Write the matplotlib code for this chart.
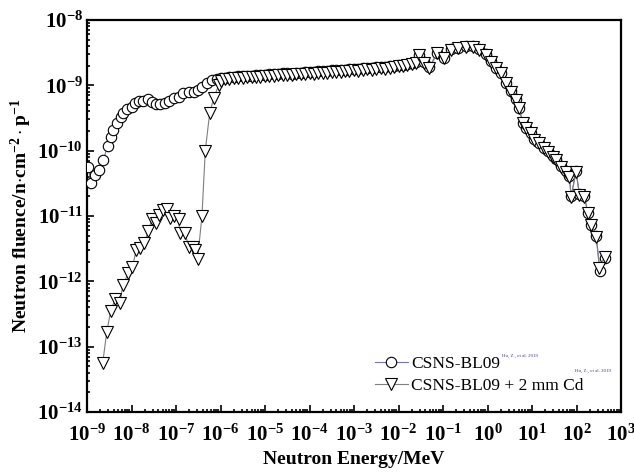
import matplotlib

matplotlib.use("Agg")
import matplotlib.pyplot as plt
from matplotlib.ticker import LogLocator, NullFormatter

plt.rcParams["font.family"] = ["Liberation Serif", "DejaVu Serif"]
plt.rcParams["font.weight"] = "bold"
plt.rcParams["mathtext.fontset"] = "custom"
plt.rcParams["mathtext.rm"] = "Liberation Serif:bold"
plt.rcParams["mathtext.it"] = "Liberation Serif:bold"
plt.rcParams["mathtext.bf"] = "Liberation Serif:bold"

# ---- CSNS-BL09 (open beam), energy in MeV, fluence in n/cm^2/p
e_open = [
    1.07e-9, 1.23e-9, 1.51e-9, 1.89e-9, 2.33e-9, 2.92e-9, 3.42e-9, 3.91e-9, 4.66e-9, 5.74e-9,
    6.57e-9, 7.84e-9, 1.02e-8, 1.21e-8, 1.51e-8, 1.85e-8, 2.40e-8, 2.87e-8, 3.58e-8, 4.41e-8,
    5.71e-8, 7.14e-8, 9.1e-8, 1.14e-7, 1.47e-7, 1.91e-7, 2.48e-7, 3.05e-7, 3.83e-7, 4.96e-7,
    6.4e-7, 8.3e-7,
    1.0e-6, 1.26e-6, 1.58e-6, 2.0e-6, 2.5e-6, 3.2e-6, 4.0e-6, 5.0e-6, 6.3e-6, 7.9e-6,
    1.0e-5, 1.26e-5, 1.58e-5, 2.0e-5, 2.5e-5, 3.2e-5, 4.0e-5, 5.0e-5, 6.3e-5, 7.9e-5,
    1.0e-4, 1.26e-4, 1.58e-4, 2.0e-4, 2.5e-4, 3.2e-4, 4.0e-4, 5.0e-4, 6.3e-4, 7.9e-4,
    1.0e-3, 1.26e-3, 1.58e-3, 2.0e-3, 2.5e-3, 3.2e-3, 4.0e-3, 5.0e-3, 6.3e-3, 7.9e-3,
    1.0e-2, 1.26e-2, 1.58e-2, 2.0e-2, 2.5e-2,
    0.029, 0.0375, 0.0486, 0.0752, 0.106, 0.150, 0.212, 0.327, 0.461, 0.650,
    0.92, 1.19, 1.55, 2.0, 2.6, 3.36, 4.37, 5.18, 6.18, 7.33,
    9.5, 11.3, 14.6, 18.9, 22.6, 29.3, 34.7, 45.0, 58.3, 69.2,
    75.5, 98.0, 116.0, 151.0, 180.0, 213.0, 277.0, 340.0, 426.0,
]
f_open = [
    5.7e-11, 3.2e-11, 4.2e-11, 5.06e-11, 7.2e-11, 1.18e-10, 1.62e-10, 2.07e-10, 2.62e-10, 3.24e-10,
    3.73e-10, 4.30e-10, 4.71e-10, 5.42e-10, 5.70e-10, 5.70e-10, 6.18e-10, 5.50e-10, 5.18e-10, 5.13e-10,
    5.42e-10, 5.82e-10, 6.33e-10, 6.70e-10, 7.55e-10, 7.82e-10, 8.0e-10, 8.49e-10, 9.53e-10, 1.07e-9,
    1.21e-9, 1.25e-9,
    1.28e-9, 1.31e-9, 1.33e-9, 1.35e-9, 1.37e-9, 1.38e-9, 1.40e-9, 1.39e-9, 1.42e-9, 1.44e-9,
    1.46e-9, 1.48e-9, 1.47e-9, 1.50e-9, 1.52e-9, 1.53e-9, 1.51e-9, 1.55e-9, 1.57e-9, 1.58e-9,
    1.60e-9, 1.59e-9, 1.63e-9, 1.66e-9, 1.65e-9, 1.69e-9, 1.71e-9, 1.70e-9, 1.74e-9, 1.76e-9,
    1.79e-9, 1.77e-9, 1.82e-9, 1.85e-9, 1.83e-9, 1.88e-9, 1.92e-9, 1.90e-9, 1.96e-9, 2.00e-9,
    2.05e-9, 2.08e-9, 2.15e-9, 2.22e-9, 2.31e-9,
    2.95e-9, 2.25e-9, 1.90e-9, 3.15e-9, 2.65e-9, 3.55e-9, 3.78e-9, 4.0e-9, 3.98e-9, 3.55e-9,
    2.98e-9, 2.36e-9, 1.86e-9, 1.56e-9, 1.09e-9, 8.2e-10, 6.1e-10, 4.55e-10, 2.68e-10, 2.25e-10,
    1.88e-10, 1.49e-10, 1.33e-10, 1.11e-10, 9.8e-11, 8.3e-11, 7.4e-11, 5.8e-11, 4.85e-11, 4.1e-11,
    2.0e-11, 4.85e-11, 2.15e-11, 2.0e-11, 1.12e-11, 7.4e-12, 4.9e-12, 1.45e-12, 2.3e-12,
]

# ---- CSNS-BL09 + 2 mm Cd
e_cd = [
    2.26e-9, 2.78e-9, 3.42e-9, 4.28e-9, 5.54e-9, 6.37e-9, 8.5e-9, 1.05e-8, 1.27e-8, 1.56e-8,
    1.95e-8, 2.40e-8, 2.87e-8, 3.58e-8, 4.25e-8, 5.2e-8, 6.4e-8, 7.4e-8, 9.2e-8, 1.16e-7,
    1.2e-7, 1.61e-7, 1.91e-7, 2.40e-7, 2.7e-7, 3.05e-7, 3.83e-7, 4.55e-7, 5.7e-7, 7.0e-7,
    9.06e-7,
    1.0e-6, 1.26e-6, 1.58e-6, 2.0e-6, 2.5e-6, 3.2e-6, 4.0e-6, 5.0e-6, 6.3e-6, 7.9e-6,
    1.0e-5, 1.26e-5, 1.58e-5, 2.0e-5, 2.5e-5, 3.2e-5, 4.0e-5, 5.0e-5, 6.3e-5, 7.9e-5,
    1.0e-4, 1.26e-4, 1.58e-4, 2.0e-4, 2.5e-4, 3.2e-4, 4.0e-4, 5.0e-4, 6.3e-4, 7.9e-4,
    1.0e-3, 1.26e-3, 1.58e-3, 2.0e-3, 2.5e-3, 3.2e-3, 4.0e-3, 5.0e-3, 6.3e-3, 7.9e-3,
    1.0e-2, 1.26e-2, 1.58e-2, 2.0e-2, 2.5e-2,
    0.029, 0.0375, 0.0486, 0.0752, 0.106, 0.150, 0.212, 0.327, 0.461, 0.650,
    0.92, 1.19, 1.55, 2.0, 2.6, 3.36, 4.37, 5.18, 6.18, 7.33,
    9.5, 11.3, 14.6, 18.9, 22.6, 29.3, 34.7, 45.0, 58.3, 69.2,
    75.5, 98.0, 116.0, 151.0, 180.0, 213.0, 277.0, 328.0, 426.0,
]
f_cd = [
    5.7e-14, 1.69e-13, 3.55e-13, 5.3e-13, 4.6e-13, 8.8e-13, 1.33e-12, 1.64e-12, 3.0e-12, 3.2e-12,
    3.9e-12, 5.96e-12, 8.9e-12, 7.7e-12, 1.04e-11, 1.24e-11, 1.27e-11, 9.2e-12, 1.0e-11, 8.9e-12,
    5.4e-12, 5.4e-12, 3.4e-12, 3.3e-12, 3.0e-12, 2.17e-12, 1.0e-11, 1.0e-10, 3.73e-10, 6.3e-10,
    1.0e-9,
    1.15e-9, 1.25e-9, 1.27e-9, 1.28e-9, 1.30e-9, 1.31e-9, 1.33e-9, 1.32e-9, 1.35e-9, 1.36e-9,
    1.38e-9, 1.40e-9, 1.39e-9, 1.42e-9, 1.44e-9, 1.45e-9, 1.43e-9, 1.47e-9, 1.49e-9, 1.50e-9,
    1.52e-9, 1.51e-9, 1.55e-9, 1.57e-9, 1.56e-9, 1.60e-9, 1.62e-9, 1.61e-9, 1.65e-9, 1.67e-9,
    1.70e-9, 1.68e-9, 1.73e-9, 1.76e-9, 1.74e-9, 1.79e-9, 1.82e-9, 1.80e-9, 1.86e-9, 1.90e-9,
    1.95e-9, 1.98e-9, 2.05e-9, 2.12e-9, 2.20e-9,
    2.91e-9, 2.17e-9, 1.82e-9, 3.09e-9, 2.59e-9, 3.47e-9, 3.69e-9, 3.90e-9, 3.90e-9, 3.47e-9,
    2.91e-9, 2.30e-9, 1.82e-9, 1.53e-9, 1.07e-9, 8.0e-10, 5.96e-10, 4.45e-10, 2.62e-10, 2.2e-10,
    1.84e-10, 1.46e-10, 1.30e-10, 1.09e-10, 9.6e-11, 8.1e-11, 7.2e-11, 5.7e-11, 4.76e-11, 4.0e-11,
    1.97e-11, 4.76e-11, 2.1e-11, 1.97e-11, 1.10e-11, 7.3e-12, 4.8e-12, 1.58e-12, 2.38e-12,
]

labels = ["CSNS-BL09", "CSNS-BL09 + 2 mm Cd"]
ref_note = "Hu, Z., et al. 2019"

fig = plt.figure(figsize=(6.34, 4.75), dpi=100)
ax = fig.add_axes([87 / 634, 63 / 475, 534 / 634, 392 / 475])

ax.plot(e_open, f_open, "-", color="#7474c0", lw=0.8, marker="o", ms=7.5,
        mfc="white", mec="black", mew=0.8, label=labels[0], zorder=3)
ax.plot(e_cd, f_cd, "-", color="#7f7f7f", lw=0.8, marker="v", ms=8.5,
        mfc="white", mec="black", mew=0.8, label=labels[1], zorder=4)

ax.set_xscale("log")
ax.set_yscale("log")
ax.set_xlim(1e-9, 1e3)
ax.set_ylim(1e-14, 1e-8)

ax.xaxis.set_major_locator(LogLocator(base=10, numticks=20))
ax.xaxis.set_minor_locator(LogLocator(base=10, subs=range(2, 10), numticks=200))
ax.xaxis.set_minor_formatter(NullFormatter())
ax.yaxis.set_major_locator(LogLocator(base=10, numticks=20))
ax.yaxis.set_minor_locator(LogLocator(base=10, subs=range(2, 10), numticks=200))
ax.yaxis.set_minor_formatter(NullFormatter())

ax.tick_params(which="both", direction="in", top=False, right=False, width=1.2)
ax.tick_params(which="major", length=5, labelsize=15)
ax.tick_params(which="minor", length=2.5)
ax.tick_params(axis="x", which="major", pad=9)
ax.tick_params(axis="y", which="major", pad=3)
for s in ax.spines.values():
    s.set_linewidth(1.6)

ax.set_xlabel("Neutron Energy/MeV", fontsize=14, fontweight="bold", labelpad=4)
ax.set_ylabel(r"Neutron fluence/n$\cdot$cm$^{-2}\cdot$p$^{-1}$", fontsize=14,
              fontweight="bold", labelpad=2)

leg = ax.legend(loc="lower left", bbox_to_anchor=(0.539, 0.045), frameon=False,
                prop={"family": "Liberation Serif", "weight": "normal", "size": 12.5},
                handlelength=1.9, handletextpad=0.2, labelspacing=0.38,
                borderaxespad=0, borderpad=0)

fig.text(502 / 634, 1 - 357 / 475, ref_note, fontsize=3.5, color="#3a3a8a",
         fontweight="normal")
fig.text(575 / 634, 1 - 372 / 475, ref_note, fontsize=3.5, color="#3a3a8a",
         fontweight="normal")

fig.savefig("out.png", dpi=100)
